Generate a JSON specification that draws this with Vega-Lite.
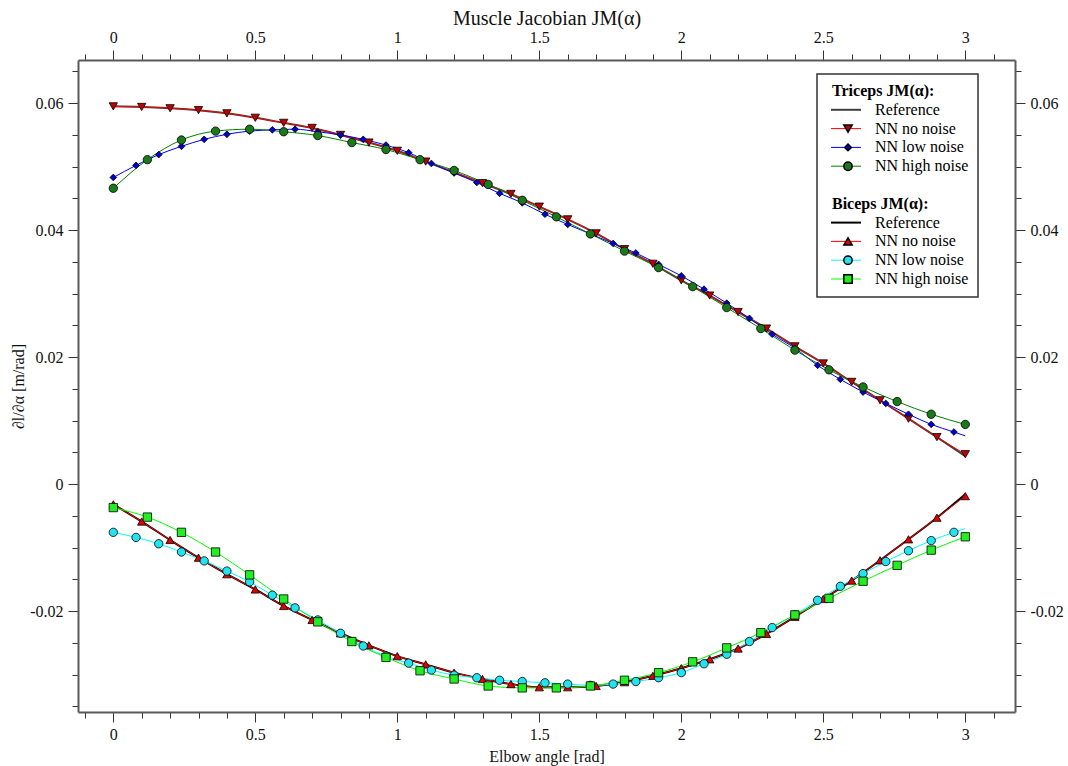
{
  "$schema": "https://vega.github.io/schema/vega-lite/v6.json",
  "width": 937,
  "height": 652,
  "autosize": {"type": "none"},
  "padding": {"left": 78, "top": 60, "right": 53, "bottom": 54},
  "background": "white",
  "config": {
    "view": {"stroke": null},
    "axis": {
      "grid": false,
      "domainColor": "#5a5a5a",
      "domainWidth": 2,
      "tickColor": "#333333",
      "tickWidth": 1,
      "labelFont": "Liberation Serif",
      "labelFontSize": 16,
      "labelColor": "#111111",
      "labelOverlap": false,
      "labelFlush": false,
      "titleFont": "Liberation Serif",
      "titleFontWeight": "normal",
      "titleColor": "#111111",
      "titleFontSize": 16
    }
  },
  "data": {"values": [
    {"s":"T0","x":0,"y":0.0595},{"s":"T0","x":0.1,"y":0.0594},{"s":"T0","x":0.2,"y":0.0592},{"s":"T0","x":0.3,"y":0.0589},{"s":"T0","x":0.4,"y":0.0584},{"s":"T0","x":0.5,"y":0.0577},{"s":"T0","x":0.6,"y":0.0569},{"s":"T0","x":0.7,"y":0.0561},{"s":"T0","x":0.8,"y":0.0550},{"s":"T0","x":0.9,"y":0.0538},{"s":"T0","x":1.0,"y":0.0525},{"s":"T0","x":1.1,"y":0.0508},{"s":"T0","x":1.2,"y":0.0491},{"s":"T0","x":1.3,"y":0.0474},{"s":"T0","x":1.4,"y":0.0457},{"s":"T0","x":1.5,"y":0.0437},{"s":"T0","x":1.6,"y":0.0417},{"s":"T0","x":1.7,"y":0.0395},{"s":"T0","x":1.8,"y":0.0370},{"s":"T0","x":1.9,"y":0.0347},{"s":"T0","x":2.0,"y":0.0321},{"s":"T0","x":2.1,"y":0.0297},{"s":"T0","x":2.2,"y":0.0271},{"s":"T0","x":2.3,"y":0.0245},{"s":"T0","x":2.4,"y":0.0217},{"s":"T0","x":2.5,"y":0.0190},{"s":"T0","x":2.6,"y":0.0161},{"s":"T0","x":2.7,"y":0.0132},{"s":"T0","x":2.8,"y":0.0103},{"s":"T0","x":2.9,"y":0.0074},{"s":"T0","x":3.0,"y":0.0044},

    {"s":"T1","mk":"mT1","x":0,"y":0.0595},{"s":"T1","mk":"mT1","x":0.1,"y":0.0594},{"s":"T1","mk":"mT1","x":0.2,"y":0.0592},{"s":"T1","mk":"mT1","x":0.3,"y":0.0589},{"s":"T1","mk":"mT1","x":0.4,"y":0.0584},{"s":"T1","mk":"mT1","x":0.5,"y":0.0577},{"s":"T1","mk":"mT1","x":0.6,"y":0.0569},{"s":"T1","mk":"mT1","x":0.7,"y":0.0561},{"s":"T1","mk":"mT1","x":0.8,"y":0.0550},{"s":"T1","mk":"mT1","x":0.9,"y":0.0538},{"s":"T1","mk":"mT1","x":1.0,"y":0.0525},{"s":"T1","mk":"mT1","x":1.1,"y":0.0508},{"s":"T1","mk":"mT1","x":1.2,"y":0.0491},{"s":"T1","mk":"mT1","x":1.3,"y":0.0474},{"s":"T1","mk":"mT1","x":1.4,"y":0.0457},{"s":"T1","mk":"mT1","x":1.5,"y":0.0437},{"s":"T1","mk":"mT1","x":1.6,"y":0.0417},{"s":"T1","mk":"mT1","x":1.7,"y":0.0395},{"s":"T1","mk":"mT1","x":1.8,"y":0.0370},{"s":"T1","mk":"mT1","x":1.9,"y":0.0347},{"s":"T1","mk":"mT1","x":2.0,"y":0.0321},{"s":"T1","mk":"mT1","x":2.1,"y":0.0297},{"s":"T1","mk":"mT1","x":2.2,"y":0.0271},{"s":"T1","mk":"mT1","x":2.3,"y":0.0245},{"s":"T1","mk":"mT1","x":2.4,"y":0.0217},{"s":"T1","mk":"mT1","x":2.5,"y":0.0190},{"s":"T1","mk":"mT1","x":2.6,"y":0.0161},{"s":"T1","mk":"mT1","x":2.7,"y":0.0132},{"s":"T1","mk":"mT1","x":2.8,"y":0.0103},{"s":"T1","mk":"mT1","x":2.9,"y":0.0074},{"s":"T1","mk":"mT1","x":3.0,"y":0.0047},

    {"s":"T2","mk":"mT2","x":0,"y":0.0483},{"s":"T2","mk":"mT2","x":0.08,"y":0.0502},{"s":"T2","mk":"mT2","x":0.16,"y":0.0519},{"s":"T2","mk":"mT2","x":0.24,"y":0.0532},{"s":"T2","mk":"mT2","x":0.32,"y":0.0543},{"s":"T2","mk":"mT2","x":0.40,"y":0.0551},{"s":"T2","mk":"mT2","x":0.48,"y":0.0556},{"s":"T2","mk":"mT2","x":0.56,"y":0.0558},{"s":"T2","mk":"mT2","x":0.64,"y":0.0559},{"s":"T2","mk":"mT2","x":0.72,"y":0.0555},{"s":"T2","mk":"mT2","x":0.80,"y":0.0550},{"s":"T2","mk":"mT2","x":0.88,"y":0.0543},{"s":"T2","mk":"mT2","x":0.96,"y":0.0534},{"s":"T2","mk":"mT2","x":1.04,"y":0.0522},{"s":"T2","mk":"mT2","x":1.12,"y":0.0505},{"s":"T2","mk":"mT2","x":1.20,"y":0.0490},{"s":"T2","mk":"mT2","x":1.28,"y":0.0475},{"s":"T2","mk":"mT2","x":1.36,"y":0.0458},{"s":"T2","mk":"mT2","x":1.44,"y":0.0443},{"s":"T2","mk":"mT2","x":1.52,"y":0.0425},{"s":"T2","mk":"mT2","x":1.60,"y":0.0409},{"s":"T2","mk":"mT2","x":1.68,"y":0.0394},{"s":"T2","mk":"mT2","x":1.76,"y":0.0379},{"s":"T2","mk":"mT2","x":1.84,"y":0.0364},{"s":"T2","mk":"mT2","x":1.92,"y":0.0346},{"s":"T2","mk":"mT2","x":2.00,"y":0.0328},{"s":"T2","mk":"mT2","x":2.08,"y":0.0307},{"s":"T2","mk":"mT2","x":2.16,"y":0.0285},{"s":"T2","mk":"mT2","x":2.24,"y":0.0261},{"s":"T2","mk":"mT2","x":2.32,"y":0.0236},{"s":"T2","mk":"mT2","x":2.40,"y":0.0214},{"s":"T2","mk":"mT2","x":2.48,"y":0.0187},{"s":"T2","mk":"mT2","x":2.56,"y":0.0165},{"s":"T2","mk":"mT2","x":2.64,"y":0.0145},{"s":"T2","mk":"mT2","x":2.72,"y":0.0127},{"s":"T2","mk":"mT2","x":2.80,"y":0.0110},{"s":"T2","mk":"mT2","x":2.88,"y":0.0094},{"s":"T2","mk":"mT2","x":2.96,"y":0.0082},{"s":"T2","x":3.0,"y":0.0076},

    {"s":"T3","mk":"mT3","x":0,"y":0.0466},{"s":"T3","mk":"mT3","x":0.12,"y":0.0511},{"s":"T3","mk":"mT3","x":0.24,"y":0.0542},{"s":"T3","mk":"mT3","x":0.36,"y":0.0556},{"s":"T3","mk":"mT3","x":0.48,"y":0.0559},{"s":"T3","mk":"mT3","x":0.60,"y":0.0555},{"s":"T3","mk":"mT3","x":0.72,"y":0.0549},{"s":"T3","mk":"mT3","x":0.84,"y":0.0538},{"s":"T3","mk":"mT3","x":0.96,"y":0.0527},{"s":"T3","mk":"mT3","x":1.08,"y":0.0511},{"s":"T3","mk":"mT3","x":1.20,"y":0.0494},{"s":"T3","mk":"mT3","x":1.32,"y":0.0472},{"s":"T3","mk":"mT3","x":1.44,"y":0.0447},{"s":"T3","mk":"mT3","x":1.56,"y":0.0421},{"s":"T3","mk":"mT3","x":1.68,"y":0.0394},{"s":"T3","mk":"mT3","x":1.80,"y":0.0367},{"s":"T3","mk":"mT3","x":1.92,"y":0.0341},{"s":"T3","mk":"mT3","x":2.04,"y":0.0311},{"s":"T3","mk":"mT3","x":2.16,"y":0.0278},{"s":"T3","mk":"mT3","x":2.28,"y":0.0245},{"s":"T3","mk":"mT3","x":2.40,"y":0.0211},{"s":"T3","mk":"mT3","x":2.52,"y":0.0180},{"s":"T3","mk":"mT3","x":2.64,"y":0.0153},{"s":"T3","mk":"mT3","x":2.76,"y":0.0130},{"s":"T3","mk":"mT3","x":2.88,"y":0.0110},{"s":"T3","mk":"mT3","x":3.0,"y":0.0094},

    {"s":"B0","x":0,"y":-0.0032},{"s":"B0","x":0.1,"y":-0.0059},{"s":"B0","x":0.2,"y":-0.0088},{"s":"B0","x":0.3,"y":-0.0116},{"s":"B0","x":0.4,"y":-0.0142},{"s":"B0","x":0.5,"y":-0.0166},{"s":"B0","x":0.6,"y":-0.0192},{"s":"B0","x":0.7,"y":-0.0214},{"s":"B0","x":0.8,"y":-0.0235},{"s":"B0","x":0.9,"y":-0.0254},{"s":"B0","x":1.0,"y":-0.0271},{"s":"B0","x":1.1,"y":-0.0284},{"s":"B0","x":1.2,"y":-0.0297},{"s":"B0","x":1.3,"y":-0.0307},{"s":"B0","x":1.4,"y":-0.0315},{"s":"B0","x":1.5,"y":-0.0320},{"s":"B0","x":1.6,"y":-0.0320},{"s":"B0","x":1.7,"y":-0.0318},{"s":"B0","x":1.8,"y":-0.0312},{"s":"B0","x":1.9,"y":-0.0302},{"s":"B0","x":2.0,"y":-0.0290},{"s":"B0","x":2.1,"y":-0.0276},{"s":"B0","x":2.2,"y":-0.0259},{"s":"B0","x":2.3,"y":-0.0236},{"s":"B0","x":2.4,"y":-0.0209},{"s":"B0","x":2.5,"y":-0.0181},{"s":"B0","x":2.6,"y":-0.0152},{"s":"B0","x":2.7,"y":-0.0120},{"s":"B0","x":2.8,"y":-0.0087},{"s":"B0","x":2.9,"y":-0.0053},{"s":"B0","x":3.0,"y":-0.0016},

    {"s":"B1","mk":"mB1","x":0,"y":-0.0032},{"s":"B1","mk":"mB1","x":0.1,"y":-0.0059},{"s":"B1","mk":"mB1","x":0.2,"y":-0.0088},{"s":"B1","mk":"mB1","x":0.3,"y":-0.0116},{"s":"B1","mk":"mB1","x":0.4,"y":-0.0142},{"s":"B1","mk":"mB1","x":0.5,"y":-0.0166},{"s":"B1","mk":"mB1","x":0.6,"y":-0.0192},{"s":"B1","mk":"mB1","x":0.7,"y":-0.0214},{"s":"B1","mk":"mB1","x":0.8,"y":-0.0235},{"s":"B1","mk":"mB1","x":0.9,"y":-0.0254},{"s":"B1","mk":"mB1","x":1.0,"y":-0.0271},{"s":"B1","mk":"mB1","x":1.1,"y":-0.0284},{"s":"B1","mk":"mB1","x":1.2,"y":-0.0297},{"s":"B1","mk":"mB1","x":1.3,"y":-0.0307},{"s":"B1","mk":"mB1","x":1.4,"y":-0.0315},{"s":"B1","mk":"mB1","x":1.5,"y":-0.0320},{"s":"B1","mk":"mB1","x":1.6,"y":-0.0320},{"s":"B1","mk":"mB1","x":1.7,"y":-0.0318},{"s":"B1","mk":"mB1","x":1.8,"y":-0.0312},{"s":"B1","mk":"mB1","x":1.9,"y":-0.0302},{"s":"B1","mk":"mB1","x":2.0,"y":-0.0290},{"s":"B1","mk":"mB1","x":2.1,"y":-0.0276},{"s":"B1","mk":"mB1","x":2.2,"y":-0.0259},{"s":"B1","mk":"mB1","x":2.3,"y":-0.0236},{"s":"B1","mk":"mB1","x":2.4,"y":-0.0209},{"s":"B1","mk":"mB1","x":2.5,"y":-0.0181},{"s":"B1","mk":"mB1","x":2.6,"y":-0.0152},{"s":"B1","mk":"mB1","x":2.7,"y":-0.0120},{"s":"B1","mk":"mB1","x":2.8,"y":-0.0087},{"s":"B1","mk":"mB1","x":2.9,"y":-0.0053},{"s":"B1","mk":"mB1","x":3.0,"y":-0.0019},

    {"s":"B2","mk":"mB2","x":0,"y":-0.0076},{"s":"B2","mk":"mB2","x":0.08,"y":-0.0084},{"s":"B2","mk":"mB2","x":0.16,"y":-0.0094},{"s":"B2","mk":"mB2","x":0.24,"y":-0.0107},{"s":"B2","mk":"mB2","x":0.32,"y":-0.0121},{"s":"B2","mk":"mB2","x":0.40,"y":-0.0137},{"s":"B2","mk":"mB2","x":0.48,"y":-0.0154},{"s":"B2","mk":"mB2","x":0.56,"y":-0.0175},{"s":"B2","mk":"mB2","x":0.64,"y":-0.0195},{"s":"B2","mk":"mB2","x":0.72,"y":-0.0214},{"s":"B2","mk":"mB2","x":0.80,"y":-0.0235},{"s":"B2","mk":"mB2","x":0.88,"y":-0.0255},{"s":"B2","mk":"mB2","x":0.96,"y":-0.0271},{"s":"B2","mk":"mB2","x":1.04,"y":-0.0282},{"s":"B2","mk":"mB2","x":1.12,"y":-0.0293},{"s":"B2","mk":"mB2","x":1.20,"y":-0.0301},{"s":"B2","mk":"mB2","x":1.28,"y":-0.0305},{"s":"B2","mk":"mB2","x":1.36,"y":-0.0309},{"s":"B2","mk":"mB2","x":1.44,"y":-0.0311},{"s":"B2","mk":"mB2","x":1.52,"y":-0.0313},{"s":"B2","mk":"mB2","x":1.60,"y":-0.0315},{"s":"B2","mk":"mB2","x":1.68,"y":-0.0317},{"s":"B2","mk":"mB2","x":1.76,"y":-0.0315},{"s":"B2","mk":"mB2","x":1.84,"y":-0.0311},{"s":"B2","mk":"mB2","x":1.92,"y":-0.0305},{"s":"B2","mk":"mB2","x":2.00,"y":-0.0297},{"s":"B2","mk":"mB2","x":2.08,"y":-0.0283},{"s":"B2","mk":"mB2","x":2.16,"y":-0.0268},{"s":"B2","mk":"mB2","x":2.24,"y":-0.0248},{"s":"B2","mk":"mB2","x":2.32,"y":-0.0226},{"s":"B2","mk":"mB2","x":2.40,"y":-0.0206},{"s":"B2","mk":"mB2","x":2.48,"y":-0.0183},{"s":"B2","mk":"mB2","x":2.56,"y":-0.0161},{"s":"B2","mk":"mB2","x":2.64,"y":-0.0141},{"s":"B2","mk":"mB2","x":2.72,"y":-0.0122},{"s":"B2","mk":"mB2","x":2.80,"y":-0.0105},{"s":"B2","mk":"mB2","x":2.88,"y":-0.0089},{"s":"B2","mk":"mB2","x":2.96,"y":-0.0076},{"s":"B2","x":3.0,"y":-0.0070},

    {"s":"B3","mk":"mB3","x":0,"y":-0.0037},{"s":"B3","mk":"mB3","x":0.12,"y":-0.0052},{"s":"B3","mk":"mB3","x":0.24,"y":-0.0076},{"s":"B3","mk":"mB3","x":0.36,"y":-0.0107},{"s":"B3","mk":"mB3","x":0.48,"y":-0.0143},{"s":"B3","mk":"mB3","x":0.60,"y":-0.0181},{"s":"B3","mk":"mB3","x":0.72,"y":-0.0217},{"s":"B3","mk":"mB3","x":0.84,"y":-0.0248},{"s":"B3","mk":"mB3","x":0.96,"y":-0.0273},{"s":"B3","mk":"mB3","x":1.08,"y":-0.0294},{"s":"B3","mk":"mB3","x":1.20,"y":-0.0307},{"s":"B3","mk":"mB3","x":1.32,"y":-0.0318},{"s":"B3","mk":"mB3","x":1.44,"y":-0.0321},{"s":"B3","mk":"mB3","x":1.56,"y":-0.0321},{"s":"B3","mk":"mB3","x":1.68,"y":-0.0318},{"s":"B3","mk":"mB3","x":1.80,"y":-0.0309},{"s":"B3","mk":"mB3","x":1.92,"y":-0.0297},{"s":"B3","mk":"mB3","x":2.04,"y":-0.0280},{"s":"B3","mk":"mB3","x":2.16,"y":-0.0258},{"s":"B3","mk":"mB3","x":2.28,"y":-0.0234},{"s":"B3","mk":"mB3","x":2.40,"y":-0.0206},{"s":"B3","mk":"mB3","x":2.52,"y":-0.0180},{"s":"B3","mk":"mB3","x":2.64,"y":-0.0153},{"s":"B3","mk":"mB3","x":2.76,"y":-0.0128},{"s":"B3","mk":"mB3","x":2.88,"y":-0.0104},{"s":"B3","mk":"mB3","x":3.0,"y":-0.0083}
  ]},
  "resolve": {"axis": {"x": "independent", "y": "independent"}},
  "layer": [
    {
      "transform": [{"filter": "datum.s == 'T0' || datum.s == 'B0'"}],
      "mark": {"type": "line", "strokeWidth": 2, "interpolate": "monotone"},
      "encoding": {
        "x": {"field": "x", "type": "quantitative",
          "scale": {"domain": [-0.1243, 3.175], "nice": false, "zero": false},
          "axis": {
            "orient": "bottom",
            "values": [-0.1,0,0.1,0.2,0.3,0.4,0.5,0.6,0.7,0.8,0.9,1,1.1,1.2,1.3,1.4,1.5,1.6,1.7,1.8,1.9,2,2.1,2.2,2.3,2.4,2.5,2.6,2.7,2.8,2.9,3,3.1],
            "labelExpr": "abs(datum.value*2-round(datum.value*2))<0.001 ? replace(format(datum.value,'~g'),'\u2212','-') : ''",
            "tickSize": {"condition": {"test": "abs(datum.value*2-round(datum.value*2))<0.001", "value": 10}, "value": 6},
            "labelPadding": 4,
            "title": "Elbow angle [rad]",
            "titlePadding": 6
          }
        },
        "y": {"field": "y", "type": "quantitative",
          "scale": {"domain": [-0.0359, 0.0668], "nice": false, "zero": false},
          "axis": {
            "orient": "left",
            "values": [-0.035,-0.03,-0.025,-0.02,-0.015,-0.01,-0.005,0,0.005,0.01,0.015,0.02,0.025,0.03,0.035,0.04,0.045,0.05,0.055,0.06,0.065],
            "labelExpr": "abs(datum.value*50-round(datum.value*50))<0.001 ? replace(format(datum.value,'~g'),'\u2212','-') : ''",
            "tickSize": {"condition": {"test": "abs(datum.value*50-round(datum.value*50))<0.001", "value": 10}, "value": 6},
            "labelPadding": 5,
            "title": "∂l/∂α [m/rad]",
            "titlePadding": 3
          }
        },
        "color": {"field": "s", "type": "nominal",
          "scale": {
            "domain": ["Th","T0","T1","T2","T3","gap","Bh","B0","B1","B2","B3"],
            "range": ["transparent","#404040","#ff0000","#0000ff","#008000","transparent","transparent","#000000","#ff0000","#00ffff","#00ff00"]
          },
          "legend": {
            "orient": "none", "legendX": 739, "legendY": 14, "title": null,
            "symbolType": "stroke", "symbolSize": 900, "symbolStrokeWidth": 1, "symbolOffset": 12,
            "labelFont": "Liberation Serif", "labelFontSize": 16, "labelColor": "#000000",
            "labelOffset": 21, "labelLimit": 400, "rowPadding": 2.8, "padding": 9,
            "strokeColor": "#333333", "fillColor": "#ffffff",
            "labelExpr": "datum.value=='Th' ? 'Triceps JM(α):' : datum.value=='Bh' ? 'Biceps JM(α):' : (datum.value=='T0'||datum.value=='B0') ? 'Reference' : (datum.value=='T1'||datum.value=='B1') ? 'NN no noise' : (datum.value=='T2'||datum.value=='B2') ? 'NN low noise' : (datum.value=='T3'||datum.value=='B3') ? 'NN high noise' : ' '",
            "encode": {
              "labels": {"update": {
                "fontWeight": {"signal": "(datum.value=='Th'||datum.value=='Bh') ? 'bold' : 'normal'"},
                "dx": {"signal": "(datum.value=='Th'||datum.value=='Bh') ? -43 : 0"}
              }},
              "symbols": {"update": {
                "strokeWidth": {"signal": "(datum.value=='T0'||datum.value=='B0') ? 2 : 1"}
              }},
              "legend": {"update": {"strokeWidth": {"value": 1.5}}}
            }
          }
        }
      }
    },
    {
      "transform": [{"filter": "datum.s != 'T0' && datum.s != 'B0'"}],
      "mark": {"type": "line", "strokeWidth": 1, "interpolate": "monotone"},
      "encoding": {
        "x": {"field": "x", "type": "quantitative",
          "scale": {"domain": [-0.1243, 3.175], "nice": false, "zero": false},
          "axis": {
            "orient": "top",
            "values": [-0.1,0,0.1,0.2,0.3,0.4,0.5,0.6,0.7,0.8,0.9,1,1.1,1.2,1.3,1.4,1.5,1.6,1.7,1.8,1.9,2,2.1,2.2,2.3,2.4,2.5,2.6,2.7,2.8,2.9,3,3.1],
            "labelExpr": "abs(datum.value*2-round(datum.value*2))<0.001 ? replace(format(datum.value,'~g'),'\u2212','-') : ''",
            "tickSize": {"condition": {"test": "abs(datum.value*2-round(datum.value*2))<0.001", "value": 10}, "value": 6},
            "labelPadding": 5,
            "title": "Muscle Jacobian JM(α)",
            "titleFontSize": 20,
            "titlePadding": 1
          }
        },
        "y": {"field": "y", "type": "quantitative",
          "scale": {"domain": [-0.0359, 0.0668], "nice": false, "zero": false},
          "axis": {
            "orient": "right",
            "values": [-0.035,-0.03,-0.025,-0.02,-0.015,-0.01,-0.005,0,0.005,0.01,0.015,0.02,0.025,0.03,0.035,0.04,0.045,0.05,0.055,0.06,0.065],
            "labelExpr": "abs(datum.value*50-round(datum.value*50))<0.001 ? replace(format(datum.value,'~g'),'\u2212','-') : ''",
            "tickSize": {"condition": {"test": "abs(datum.value*50-round(datum.value*50))<0.001", "value": 10}, "value": 6},
            "labelPadding": 5,
            "title": null
          }
        },
        "color": {"field": "s", "type": "nominal",
          "scale": {
            "domain": ["Th","T0","T1","T2","T3","gap","Bh","B0","B1","B2","B3"],
            "range": ["transparent","#404040","#ff0000","#0000ff","#008000","transparent","transparent","#000000","#ff0000","#00ffff","#00ff00"]
          }
        }
      }
    },
    {
      "transform": [{"filter": "isValid(datum.mk)"}],
      "mark": {"type": "point", "filled": true, "stroke": "black", "strokeWidth": 0.8, "size": 70, "opacity": 1},
      "encoding": {
        "x": {"field": "x", "type": "quantitative", "scale": {"domain": [-0.1243, 3.175], "nice": false, "zero": false}, "axis": null},
        "y": {"field": "y", "type": "quantitative", "scale": {"domain": [-0.0359, 0.0668], "nice": false, "zero": false}, "axis": null},
        "fill": {"field": "mk", "type": "nominal",
          "scale": {
            "domain": ["mTh","mT0","mT1","mT2","mT3","mgap","mBh","mB0","mB1","mB2","mB3"],
            "range": ["transparent","transparent","#c00000","#0000d0","#1a7a1a","transparent","transparent","transparent","#e00000","#22e3f0","#22ee22"]
          },
          "legend": {
            "orient": "none", "legendX": 753, "legendY": 14, "title": null,
            "symbolSize": 70,
            "labelFont": "Liberation Serif", "labelFontSize": 16, "labelColor": "transparent",
            "labelOffset": 13, "rowPadding": 2.8, "padding": 9,
            "labelExpr": "' '",
            "encode": {"symbols": {"update": {"stroke": {"value": "black"}, "strokeWidth": {"value": 0.8}, "opacity": {"value": 1}}}}
          }
        },
        "shape": {"field": "mk", "type": "nominal",
          "scale": {
            "domain": ["mTh","mT0","mT1","mT2","mT3","mgap","mBh","mB0","mB1","mB2","mB3"],
            "range": ["M0,0","M0,0","triangle-down","M0,-0.8L0.8,0L0,0.8L-0.8,0Z","circle","M0,0","M0,0","M0,0","triangle-up","circle","square"]
          },
          "legend": {
            "orient": "none", "legendX": 753, "legendY": 14, "title": null,
            "symbolSize": 70,
            "labelFont": "Liberation Serif", "labelFontSize": 16, "labelColor": "transparent",
            "labelOffset": 13, "rowPadding": 2.8, "padding": 9,
            "labelExpr": "' '",
            "encode": {"symbols": {"update": {"stroke": {"value": "black"}, "strokeWidth": {"value": 0.8}, "opacity": {"value": 1}}}}
          }
        }
      }
    }
  ]
}
